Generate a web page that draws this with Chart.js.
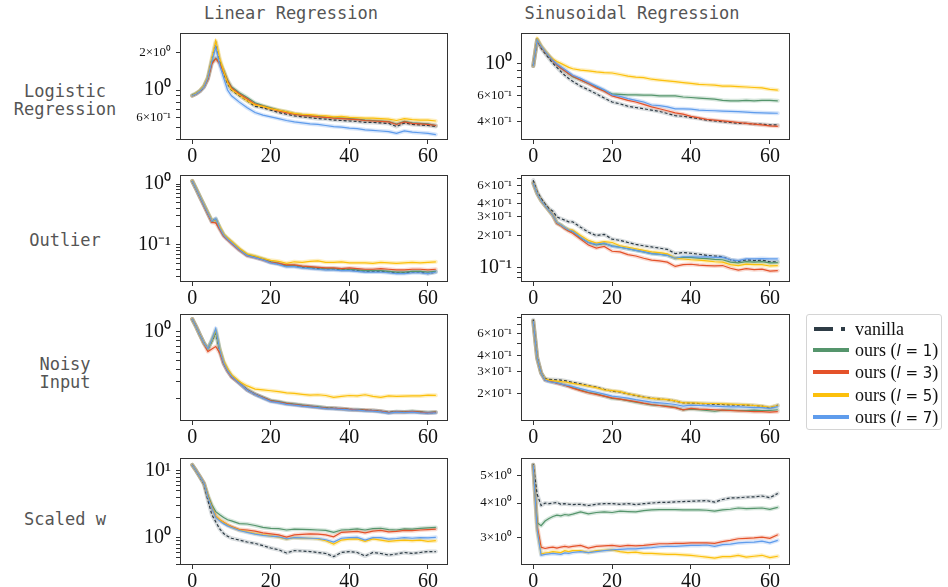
<!DOCTYPE html>
<html>
<head>
<meta charset="utf-8">
<script src="https://cdn.jsdelivr.net/npm/chart.js@4.4.0/dist/chart.umd.min.js"></script>
<style>
  body { margin: 0; background: #fff; width: 948px; height: 587px; position: relative; overflow: hidden; }
  canvas.painel { position: absolute; }
  .titulo, .linha {
    position: absolute; transform: translate(-50%, -50%);
    font-family: "DejaVu Sans Mono", monospace; font-size: 17px; color: #555;
    white-space: pre; text-align: center; line-height: 18px;
  }
  #legenda {
    position: absolute; left: 806px; top: 314px; width: 136px; height: 116px;
    border: 1px solid #d4d4d4; border-radius: 3px; box-sizing: border-box;
  }
  #legenda .item { position: absolute; left: 0; height: 20px; width: 136px; }
  #legenda svg { position: absolute; left: 3px; top: 6px; }
  #legenda span.txt {
    position: absolute; left: 48px; top: 0; line-height: 20px; white-space: nowrap;
    font-family: "Liberation Serif", serif; font-size: 18px; color: #111;
  }
  #legenda .m { font-family: "DejaVu Sans", sans-serif; font-size: 15px; }
</style>
</head>
<body>

<div class="titulo" style="left:291px;top:13px">Linear Regression</div>
<div class="titulo" style="left:632px;top:13px">Sinusoidal Regression</div>
<div class="linha" style="left:65px;top:100px">Logistic
Regression</div>
<div class="linha" style="left:65px;top:240px">Outlier</div>
<div class="linha" style="left:65px;top:373px">Noisy
Input</div>
<div class="linha" style="left:65px;top:519px">Scaled w</div>

<canvas id="p_lin_log" class="painel" width="360" height="139" style="left:100px;top:25px"></canvas>
<canvas id="p_sin_log" class="painel" width="360" height="139" style="left:441px;top:25px"></canvas>
<canvas id="p_lin_out" class="painel" width="360" height="139" style="left:100px;top:167px"></canvas>
<canvas id="p_sin_out" class="painel" width="360" height="139" style="left:441px;top:167px"></canvas>
<canvas id="p_lin_noisy" class="painel" width="360" height="139" style="left:100px;top:306px"></canvas>
<canvas id="p_sin_noisy" class="painel" width="360" height="139" style="left:441px;top:306px"></canvas>
<canvas id="p_lin_scaled" class="painel" width="360" height="139" style="left:100px;top:450px"></canvas>
<canvas id="p_sin_scaled" class="painel" width="360" height="139" style="left:441px;top:450px"></canvas>

<div id="legenda">
  <div class="item" style="top:4px">
    <svg width="40" height="8"><line x1="4" y1="4" x2="23" y2="4" stroke="#2e3c46" stroke-width="4"/><line x1="31" y1="4" x2="35" y2="4" stroke="#2e3c46" stroke-width="4"/></svg>
    <span class="txt">vanilla</span>
  </div>
  <div class="item" style="top:25px">
    <svg width="40" height="8"><line x1="3" y1="4" x2="39" y2="4" stroke="#55956c" stroke-width="4"/></svg>
    <span class="txt">ours (<span class="m"><i>l</i> = 1</span>)</span>
  </div>
  <div class="item" style="top:47px">
    <svg width="40" height="8"><line x1="3" y1="4" x2="39" y2="4" stroke="#e4522a" stroke-width="4"/></svg>
    <span class="txt">ours (<span class="m"><i>l</i> = 3</span>)</span>
  </div>
  <div class="item" style="top:70px">
    <svg width="40" height="8"><line x1="3" y1="4" x2="39" y2="4" stroke="#fcc00c" stroke-width="4"/></svg>
    <span class="txt">ours (<span class="m"><i>l</i> = 5</span>)</span>
  </div>
  <div class="item" style="top:92px">
    <svg width="40" height="8"><line x1="3" y1="4" x2="39" y2="4" stroke="#5f9cec" stroke-width="4"/></svg>
    <span class="txt">ours (<span class="m"><i>l</i> = 7</span>)</span>
  </div>
</div>

<script>
// epochs sampled for every curve
const epocas = [0,1,2,3,4,5,6,7,8,9,10,12,14,16,18,20,22,24,26,28,30,32,34,36,38,40,42,44,46,48,50,52,54,56,58,60,62];

// Logistic regression / linear
const linLogVanilla = [0.90,0.93,0.98,1.06,1.25,1.75,2.40,1.72,1.38,1.12,1.00,0.90,0.82,0.74,0.72,0.69,0.66,0.64,0.62,0.61,0.60,0.59,0.585,0.575,0.57,0.565,0.56,0.55,0.55,0.545,0.54,0.51,0.545,0.53,0.525,0.52,0.51];
const linLogL1 = [0.91,0.94,0.99,1.07,1.23,1.65,1.80,1.66,1.43,1.20,1.06,0.95,0.87,0.79,0.75,0.72,0.69,0.67,0.645,0.63,0.62,0.615,0.605,0.60,0.595,0.59,0.585,0.575,0.57,0.565,0.56,0.535,0.56,0.545,0.54,0.535,0.52];
const linLogL3 = [0.90,0.93,0.98,1.06,1.22,1.62,1.78,1.62,1.40,1.18,1.04,0.93,0.85,0.77,0.74,0.71,0.68,0.66,0.64,0.625,0.62,0.61,0.605,0.595,0.59,0.585,0.58,0.57,0.565,0.56,0.555,0.53,0.555,0.54,0.535,0.53,0.52];
const linLogL5 = [0.90,0.94,0.99,1.08,1.27,1.80,2.48,1.80,1.42,1.15,1.01,0.91,0.82,0.76,0.74,0.71,0.69,0.67,0.65,0.64,0.635,0.625,0.62,0.61,0.615,0.605,0.60,0.595,0.595,0.59,0.585,0.57,0.59,0.58,0.575,0.575,0.565];
const linLogL7 = [0.90,0.93,0.98,1.06,1.25,1.70,2.20,1.58,1.25,1.00,0.90,0.80,0.72,0.66,0.63,0.61,0.59,0.57,0.555,0.545,0.535,0.53,0.52,0.51,0.505,0.495,0.49,0.48,0.475,0.47,0.465,0.45,0.47,0.46,0.455,0.45,0.44];

// Logistic regression / sinusoidal
const sinLogVanilla = [0.96,1.45,1.27,1.17,1.08,1.00,0.94,0.88,0.83,0.79,0.755,0.70,0.66,0.62,0.58,0.545,0.53,0.51,0.50,0.49,0.48,0.47,0.455,0.44,0.435,0.427,0.42,0.41,0.405,0.40,0.395,0.39,0.39,0.385,0.385,0.38,0.38];
const sinLogL1 = [0.96,1.45,1.30,1.20,1.12,1.04,0.98,0.93,0.89,0.85,0.81,0.77,0.73,0.69,0.65,0.62,0.615,0.61,0.61,0.607,0.607,0.60,0.60,0.60,0.59,0.585,0.58,0.575,0.57,0.56,0.555,0.555,0.56,0.555,0.56,0.56,0.555];
const sinLogL3 = [0.96,1.45,1.30,1.20,1.12,1.04,0.98,0.93,0.89,0.85,0.82,0.77,0.73,0.68,0.645,0.60,0.58,0.56,0.545,0.525,0.505,0.49,0.475,0.46,0.45,0.435,0.425,0.415,0.41,0.405,0.40,0.395,0.39,0.385,0.38,0.375,0.372];
const sinLogL5 = [0.96,1.48,1.32,1.22,1.13,1.07,1.03,1.00,0.97,0.94,0.92,0.90,0.89,0.875,0.865,0.86,0.84,0.82,0.805,0.80,0.78,0.77,0.76,0.75,0.74,0.73,0.72,0.715,0.71,0.70,0.70,0.695,0.69,0.685,0.68,0.665,0.658];
const sinLogL7 = [0.96,1.45,1.31,1.21,1.12,1.05,0.99,0.95,0.91,0.87,0.83,0.79,0.74,0.70,0.66,0.61,0.595,0.575,0.56,0.545,0.52,0.515,0.505,0.49,0.49,0.487,0.48,0.477,0.475,0.472,0.47,0.468,0.465,0.462,0.46,0.458,0.457];

// Outlier / linear
const linOutVanilla = [1.12,0.83,0.61,0.45,0.33,0.245,0.27,0.19,0.145,0.125,0.11,0.084,0.068,0.063,0.058,0.052,0.049,0.045,0.045,0.043,0.042,0.041,0.040,0.040,0.039,0.039,0.038,0.037,0.037,0.037,0.036,0.035,0.035,0.036,0.036,0.034,0.036];
const linOutL1 = [1.12,0.83,0.61,0.45,0.33,0.245,0.26,0.19,0.147,0.126,0.111,0.085,0.069,0.064,0.059,0.053,0.050,0.046,0.046,0.044,0.043,0.042,0.041,0.041,0.040,0.040,0.039,0.038,0.038,0.038,0.037,0.036,0.036,0.037,0.037,0.036,0.037];
const linOutL3 = [1.12,0.82,0.60,0.44,0.32,0.235,0.23,0.18,0.14,0.122,0.105,0.082,0.066,0.062,0.057,0.052,0.050,0.047,0.047,0.045,0.044,0.043,0.042,0.042,0.041,0.042,0.041,0.040,0.040,0.041,0.040,0.039,0.039,0.040,0.040,0.039,0.040];
const linOutL5 = [1.13,0.84,0.62,0.46,0.34,0.25,0.26,0.20,0.15,0.13,0.115,0.088,0.071,0.066,0.060,0.056,0.054,0.050,0.053,0.052,0.054,0.055,0.052,0.052,0.053,0.051,0.051,0.051,0.050,0.052,0.051,0.050,0.051,0.052,0.051,0.052,0.053];
const linOutL7 = [1.12,0.83,0.61,0.45,0.33,0.245,0.27,0.19,0.145,0.124,0.109,0.083,0.067,0.062,0.057,0.051,0.048,0.044,0.044,0.042,0.041,0.040,0.039,0.039,0.038,0.038,0.037,0.036,0.036,0.036,0.035,0.034,0.034,0.035,0.035,0.034,0.036];

// Outlier / sinusoidal
const sinOutVanilla = [0.67,0.52,0.45,0.40,0.36,0.34,0.30,0.29,0.28,0.27,0.27,0.24,0.215,0.20,0.205,0.185,0.18,0.172,0.165,0.16,0.156,0.152,0.148,0.135,0.138,0.136,0.133,0.13,0.128,0.126,0.118,0.114,0.118,0.116,0.117,0.113,0.113];
const sinOutL1 = [0.63,0.50,0.43,0.385,0.345,0.31,0.265,0.252,0.237,0.225,0.218,0.19,0.172,0.163,0.168,0.16,0.155,0.15,0.145,0.14,0.135,0.133,0.13,0.122,0.124,0.124,0.122,0.121,0.119,0.118,0.112,0.11,0.113,0.112,0.113,0.11,0.111];
const sinOutL3 = [0.63,0.50,0.43,0.385,0.345,0.31,0.26,0.248,0.232,0.22,0.21,0.185,0.163,0.152,0.158,0.142,0.14,0.132,0.128,0.122,0.117,0.115,0.112,0.102,0.106,0.107,0.105,0.104,0.103,0.104,0.098,0.094,0.097,0.095,0.096,0.092,0.093];
const sinOutL5 = [0.63,0.50,0.43,0.385,0.345,0.31,0.265,0.252,0.237,0.228,0.225,0.20,0.18,0.17,0.175,0.172,0.16,0.155,0.15,0.145,0.14,0.138,0.134,0.122,0.12,0.118,0.117,0.115,0.113,0.112,0.106,0.104,0.107,0.106,0.106,0.103,0.104];
const sinOutL7 = [0.63,0.50,0.43,0.385,0.345,0.31,0.265,0.252,0.237,0.226,0.22,0.193,0.172,0.165,0.17,0.158,0.155,0.15,0.145,0.14,0.135,0.133,0.13,0.122,0.126,0.126,0.125,0.126,0.124,0.125,0.118,0.116,0.12,0.12,0.121,0.12,0.12];

// Noisy input / linear
const linNoisyVanilla = [1.36,1.13,0.92,0.76,0.66,0.80,0.97,0.64,0.47,0.39,0.34,0.29,0.245,0.22,0.203,0.188,0.182,0.175,0.172,0.168,0.165,0.162,0.158,0.157,0.155,0.153,0.152,0.15,0.149,0.146,0.142,0.145,0.144,0.145,0.143,0.141,0.142];
const linNoisyL1 = [1.36,1.13,0.92,0.76,0.66,0.80,1.00,0.64,0.47,0.39,0.34,0.29,0.247,0.222,0.205,0.19,0.185,0.178,0.174,0.17,0.166,0.163,0.159,0.157,0.155,0.153,0.152,0.15,0.149,0.146,0.142,0.145,0.144,0.146,0.144,0.142,0.144];
const linNoisyL3 = [1.36,1.13,0.92,0.75,0.62,0.66,0.70,0.60,0.46,0.385,0.335,0.288,0.245,0.221,0.204,0.188,0.183,0.176,0.172,0.168,0.165,0.161,0.158,0.157,0.155,0.153,0.151,0.15,0.149,0.146,0.142,0.144,0.143,0.145,0.143,0.141,0.143];
const linNoisyL5 = [1.36,1.13,0.92,0.76,0.66,0.82,1.04,0.66,0.49,0.41,0.355,0.30,0.27,0.25,0.245,0.24,0.235,0.228,0.225,0.22,0.216,0.218,0.214,0.205,0.21,0.214,0.212,0.218,0.21,0.205,0.212,0.21,0.211,0.212,0.212,0.216,0.215];
const linNoisyL7 = [1.36,1.13,0.92,0.76,0.66,0.83,1.08,0.65,0.47,0.39,0.34,0.288,0.243,0.219,0.201,0.185,0.18,0.173,0.17,0.166,0.163,0.16,0.156,0.155,0.153,0.151,0.15,0.148,0.147,0.144,0.14,0.143,0.142,0.143,0.141,0.14,0.141];

// Noisy input / sinusoidal
const sinNoisyVanilla = [0.77,0.39,0.29,0.262,0.258,0.257,0.256,0.255,0.252,0.248,0.244,0.238,0.23,0.224,0.215,0.208,0.205,0.198,0.192,0.187,0.183,0.18,0.178,0.174,0.168,0.167,0.166,0.165,0.164,0.163,0.162,0.162,0.161,0.16,0.158,0.153,0.161];
const sinNoisyL1 = [0.75,0.38,0.29,0.255,0.25,0.246,0.242,0.238,0.232,0.228,0.222,0.212,0.203,0.198,0.19,0.182,0.18,0.175,0.17,0.166,0.162,0.16,0.158,0.155,0.148,0.15,0.148,0.146,0.144,0.147,0.147,0.146,0.146,0.147,0.146,0.146,0.148];
const sinNoisyL3 = [0.75,0.38,0.29,0.255,0.25,0.246,0.24,0.236,0.232,0.226,0.22,0.21,0.202,0.196,0.19,0.184,0.18,0.176,0.172,0.167,0.163,0.16,0.157,0.154,0.148,0.152,0.15,0.149,0.148,0.147,0.146,0.145,0.144,0.143,0.143,0.142,0.143];
const sinNoisyL5 = [0.75,0.38,0.29,0.26,0.255,0.252,0.25,0.248,0.247,0.243,0.24,0.234,0.228,0.222,0.213,0.21,0.206,0.198,0.193,0.186,0.182,0.18,0.178,0.174,0.168,0.168,0.167,0.166,0.166,0.165,0.164,0.163,0.162,0.16,0.158,0.155,0.16];
const sinNoisyL7 = [0.75,0.38,0.29,0.255,0.248,0.245,0.242,0.238,0.233,0.23,0.226,0.218,0.21,0.204,0.197,0.19,0.187,0.183,0.178,0.174,0.17,0.168,0.166,0.163,0.158,0.161,0.16,0.159,0.158,0.157,0.156,0.156,0.155,0.154,0.154,0.152,0.157];

// Scaled w / linear
const linScaledVanilla = [12.2,10.0,8.0,6.3,3.6,2.2,1.72,1.35,1.15,1.05,0.98,0.92,0.86,0.82,0.76,0.70,0.66,0.59,0.64,0.63,0.62,0.60,0.58,0.52,0.60,0.62,0.60,0.53,0.60,0.58,0.55,0.57,0.60,0.58,0.60,0.62,0.62];
const linScaledL1 = [12.2,10.0,8.1,6.5,4.3,3.1,2.45,2.2,2.0,1.85,1.78,1.62,1.6,1.52,1.42,1.38,1.36,1.3,1.34,1.33,1.32,1.3,1.28,1.2,1.3,1.32,1.35,1.3,1.36,1.38,1.32,1.3,1.35,1.34,1.38,1.4,1.42];
const linScaledL3 = [12.2,10.0,8.1,6.5,4.1,2.85,2.1,1.85,1.7,1.56,1.46,1.32,1.3,1.25,1.18,1.14,1.1,1.02,1.1,1.12,1.14,1.13,1.1,1.03,1.2,1.22,1.24,1.18,1.25,1.28,1.22,1.24,1.28,1.27,1.3,1.32,1.34];
const linScaledL5 = [12.2,10.0,8.1,6.5,4.1,2.85,2.1,1.85,1.68,1.55,1.44,1.3,1.22,1.15,1.1,1.06,1.02,0.95,1.0,0.98,0.98,0.96,0.9,0.8,0.92,0.95,0.96,0.88,0.96,0.92,0.88,0.9,0.92,0.9,0.92,0.88,0.9];
const linScaledL7 = [12.2,10.0,8.1,6.5,4.0,2.75,2.0,1.78,1.62,1.5,1.42,1.28,1.2,1.13,1.08,1.05,1.03,0.96,1.0,0.99,0.98,0.97,0.93,0.86,0.98,1.0,1.01,0.92,1.0,1.0,0.95,0.97,1.0,0.98,1.0,0.99,1.01];

// Scaled w / sinusoidal
const sinScaledVanilla = [5.5,4.3,3.92,4.0,3.98,4.0,4.02,3.96,3.98,3.96,3.95,3.96,3.92,3.96,3.98,3.98,3.96,3.98,3.95,3.98,4.0,4.02,4.02,4.04,4.05,4.06,4.07,4.08,4.03,4.12,4.17,4.18,4.2,4.21,4.24,4.18,4.33];
const sinScaledL1 = [5.47,3.4,3.32,3.45,3.52,3.58,3.62,3.6,3.64,3.62,3.65,3.72,3.66,3.7,3.72,3.7,3.74,3.73,3.72,3.76,3.78,3.79,3.79,3.79,3.78,3.78,3.78,3.77,3.74,3.78,3.8,3.84,3.82,3.83,3.84,3.8,3.86];
const sinScaledL3 = [5.47,3.3,2.78,2.75,2.77,2.78,2.76,2.78,2.8,2.78,2.8,2.82,2.76,2.8,2.81,2.82,2.8,2.82,2.81,2.82,2.84,2.86,2.86,2.87,2.87,2.88,2.88,2.88,2.87,2.91,2.94,2.98,2.99,3.0,3.02,2.99,3.08];
const sinScaledL5 = [5.47,3.2,2.63,2.65,2.66,2.68,2.67,2.66,2.7,2.68,2.7,2.7,2.66,2.7,2.71,2.72,2.68,2.66,2.67,2.64,2.64,2.63,2.62,2.62,2.61,2.6,2.58,2.56,2.54,2.57,2.57,2.6,2.56,2.58,2.6,2.55,2.58];
const sinScaledL7 = [5.47,3.2,2.6,2.62,2.63,2.64,2.63,2.62,2.65,2.64,2.66,2.68,2.66,2.68,2.7,2.72,2.73,2.74,2.74,2.76,2.77,2.79,2.8,2.8,2.81,2.82,2.82,2.83,2.8,2.84,2.85,2.88,2.89,2.9,2.92,2.88,2.94];

// y ticks and their labels, panel by panel
const linLogTicks = [0.4,0.5,0.6,0.7,0.8,0.9,1,2];
const linLogRotulos = ['','','6×10⁻¹','','','','10⁰','2×10⁰'];
const sinLogTicks = [0.4,0.5,0.6,0.7,0.8,0.9,1];
const sinLogRotulos = ['4×10⁻¹','','6×10⁻¹','','','','10⁰'];
const linOutTicks = [0.03,0.04,0.05,0.06,0.07,0.08,0.09,0.1,0.2,0.3,0.4,0.5,0.6,0.7,0.8,0.9,1];
const linOutRotulos = ['','','','','','','','10⁻¹','','','','','','','','','10⁰'];
const sinOutTicks = [0.08,0.09,0.1,0.2,0.3,0.4,0.5,0.6,0.7];
const sinOutRotulos = ['','','10⁻¹','2×10⁻¹','3×10⁻¹','4×10⁻¹','','6×10⁻¹',''];
const linNoisyTicks = [0.2,0.3,0.4,0.5,0.6,0.7,0.8,0.9,1];
const linNoisyRotulos = ['','','','','','','','','10⁰'];
const sinNoisyTicks = [0.2,0.3,0.4,0.5,0.6,0.7,0.8];
const sinNoisyRotulos = ['2×10⁻¹','3×10⁻¹','4×10⁻¹','','6×10⁻¹','',''];
const linScaledTicks = [0.4,0.5,0.6,0.7,0.8,0.9,1,2,3,4,5,6,7,8,9,10];
const linScaledRotulos = ['','','','','','','10⁰','','','','','','','','','10¹'];
const sinScaledTicks = [3,4,5];
const sinScaledRotulos = ['3×10⁰','4×10⁰','5×10⁰'];

const xTicks = [0,20,40,60];

const cores = ['#2e3c46','#55956c','#e4522a','#fcc00c','#5f9cec'];
const faixas = ['rgba(120,132,140,0.28)','rgba(85,149,108,0.24)','rgba(228,82,42,0.22)','rgba(252,192,12,0.26)','rgba(95,156,236,0.26)'];

// caixa em volta da área do gráfico (as quatro bordas)
const moldura = {
  id: 'moldura',
  afterDraw(chart) {
    const { ctx, chartArea: a } = chart;
    ctx.save();
    ctx.strokeStyle = '#333';
    ctx.lineWidth = 1;
    ctx.strokeRect(Math.round(a.left) + 0.5, Math.round(a.top) + 0.5,
      Math.round(a.right - a.left) - 1, Math.round(a.bottom - a.top) - 1);
    ctx.restore();
  }
};

function montarSeries(listas) {
  const ds = [];
  listas.forEach((vals, i) => {
    const pts = epocas.map((x, j) => ({ x, y: vals[j] }));
    ds.push({ data: pts, borderColor: faixas[i], borderWidth: 4, pointRadius: 0,
      borderJoinStyle: 'round', borderCapStyle: 'round', order: 20 - i });
    ds.push({ data: pts, borderColor: cores[i], borderWidth: 1.2, pointRadius: 0,
      borderDash: i === 0 ? [3, 2] : [], order: 10 - i });
  });
  return ds;
}

function montarPainel(id, listas, yMin, yMax, ticks, rotulos, padDir) {
  const ctx = document.getElementById(id);
  const eixoBase = {
    grid: { drawOnChartArea: false, tickLength: 4, tickColor: '#333', tickWidth: 1 },
    border: { display: false },
  };
  return new Chart(ctx, {
    type: 'line',
    data: { datasets: montarSeries(listas) },
    options: {
      responsive: false,
      animation: false,
      devicePixelRatio: 1,
      layout: { padding: { top: 8, right: padDir, left: 0, bottom: 0 } },
      plugins: { legend: { display: false }, tooltip: { enabled: false } },
      scales: {
        x: {
          ...eixoBase,
          type: 'linear', min: -3.1, max: 65.1,
          afterBuildTicks: (s) => { s.ticks = xTicks.map((v) => ({ value: v })); },
          afterFit: (s) => { s.height = 24; s.paddingLeft = 0; s.paddingRight = 0; },
          ticks: {
            autoSkip: false, maxRotation: 0, padding: 5, color: '#111',
            font: { family: 'Liberation Serif', size: 20, lineHeight: 0.8 },
            callback: (v) => String(v),
          },
        },
        y: {
          ...eixoBase,
          type: 'logarithmic', min: yMin, max: yMax,
          afterBuildTicks: (s) => { s.ticks = ticks.map((v) => ({ value: v })); },
          afterFit: (s) => { s.width = 80; s.paddingTop = 0; s.paddingBottom = 0; },
          ticks: {
            autoSkip: false, padding: 5, color: '#111',
            callback: (v, i) => rotulos[i],
            font: (c) => ({
              family: 'Liberation Serif',
              size: (rotulos[c.index] || '').includes('×') ? 13 : 20,
            }),
          },
        },
      },
    },
    plugins: [moldura],
  });
}

montarPainel('p_lin_log', [linLogVanilla, linLogL1, linLogL3, linLogL5, linLogL7], 0.398, 2.86, linLogTicks, linLogRotulos, 12);
montarPainel('p_sin_log', [sinLogVanilla, sinLogL1, sinLogL3, sinLogL5, sinLogL7], 0.3375, 1.613, sinLogTicks, sinLogRotulos, 11);
montarPainel('p_lin_out', [linOutVanilla, linOutL1, linOutL3, linOutL5, linOutL7], 0.0247, 1.405, linOutTicks, linOutRotulos, 12);
montarPainel('p_sin_out', [sinOutVanilla, sinOutL1, sinOutL3, sinOutL5, sinOutL7], 0.0726, 0.75, sinOutTicks, sinOutRotulos, 11);
montarPainel('p_lin_noisy', [linNoisyVanilla, linNoisyL1, linNoisyL3, linNoisyL5, linNoisyL7], 0.1156, 1.535, linNoisyTicks, linNoisyRotulos, 12);
montarPainel('p_sin_noisy', [sinNoisyVanilla, sinNoisyL1, sinNoisyL3, sinNoisyL5, sinNoisyL7], 0.1205, 0.854, sinNoisyTicks, sinNoisyRotulos, 11);
montarPainel('p_lin_scaled', [linScaledVanilla, linScaledL1, linScaledL3, linScaledL5, linScaledL7], 0.39, 15.5, linScaledTicks, linScaledRotulos, 12);
montarPainel('p_sin_scaled', [sinScaledVanilla, sinScaledL1, sinScaledL3, sinScaledL5, sinScaledL7], 2.41, 5.8, sinScaledTicks, sinScaledRotulos, 11);
</script>
</body>
</html>
